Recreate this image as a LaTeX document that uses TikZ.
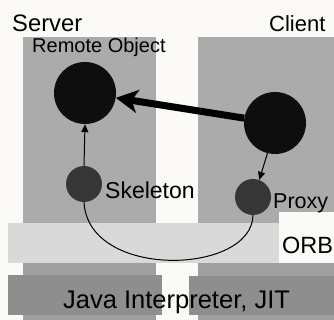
\documentclass[tikz,border=0pt]{standalone}
\usepackage{fontspec}
\setmainfont{Liberation Sans}
\usetikzlibrary{arrows.meta}
\definecolor{bgwhite}{HTML}{FBFAF7}
\definecolor{colgray}{HTML}{ABABAB}
\definecolor{lowgray}{HTML}{9F9F9F}
\definecolor{orbgray}{HTML}{D9D9D9}
\definecolor{javagray}{HTML}{8E8E8E}
\definecolor{bigfill}{HTML}{0E0E0E}
\definecolor{smallfill}{HTML}{363636}
\tikzset{
  bigdot/.style={circle, fill=bigfill, inner sep=0pt, minimum size=62pt},
  smalldot/.style={circle, fill=smallfill, inner sep=0pt, minimum size=36pt},
  lbl/.style={inner sep=0pt, anchor=base west, text=black},
  thinarrow/.style={line width=1pt, -{Triangle[length=8pt,width=7pt]}},
  thickarrow/.style={line width=7pt, -{Stealth[length=22pt,width=23pt,inset=6pt]}},
  thinline/.style={line width=1pt}
}
\begin{document}
\begin{tikzpicture}[x=1pt,y=-1pt]
\useasboundingbox[fill=bgwhite] (0,0) rectangle (334,320);
% columns
\fill[colgray] (23,37) rectangle (156,320);
\fill[colgray] (198,37) rectangle (334,320);
\fill[lowgray] (23,263) rectangle (156,320);
\fill[lowgray] (198,263) rectangle (334,320);
% ORB band
\fill[orbgray] (8,223) rectangle (279,263);
\fill[bgwhite] (279,212) rectangle (334,263);
% Java boxes
\fill[javagray] (8,275) rectangle (162,315);
\fill[javagray] (189,276) rectangle (334,315);
% objects
\node[bigdot] (ro) at (85,93) {};
\node[bigdot] (cl) at (275,123) {};
\node[smalldot] (sk) at (84,184) {};
\node[smalldot] (px) at (253,197) {};
% labels
\node[lbl, font=\fontsize{23.8}{24}\selectfont] (server) at (12,32) {Server};
\node[lbl, font=\fontsize{22}{24}\selectfont] (client) at (269,32) {Client};
\node[lbl, font=\fontsize{20}{22}\selectfont] (rolbl) at (32,53) {Remote Object};
\node[lbl, font=\fontsize{23}{24}\selectfont] (sklbl) at (105,198) {Skeleton};
\node[lbl, font=\fontsize{21.5}{24}\selectfont] (pxlbl) at (273,208) {Proxy};
\node[lbl, font=\fontsize{23.5}{24}\selectfont] (orblbl) at (282,253) {ORB};
\node[lbl, font=\fontsize{25.5}{26}\selectfont] (java) at (63,308) {Java Interpreter, JIT};
% connectors
\draw[thickarrow] (cl) -- (ro);
\draw[thinarrow] (sk.north) -- (ro.south);
\draw[thinarrow] (cl.-104) -- (px.70);
\draw[thinline] (sk.south) .. controls (88,280) and (252,275) .. (px.south);
\end{tikzpicture}
\end{document}
